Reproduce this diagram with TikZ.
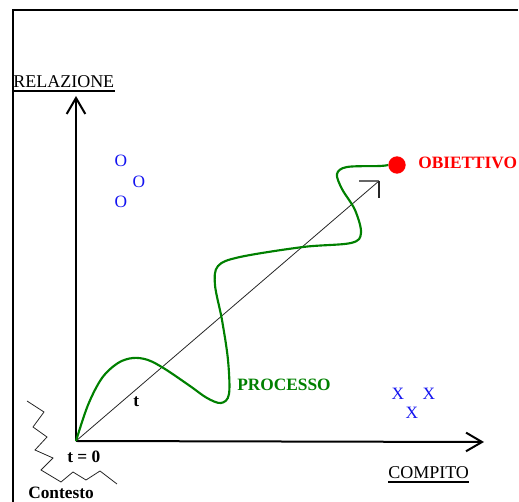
\documentclass[tikz,border=0pt]{standalone}
\usepackage{fontspec}
\setmainfont{Liberation Serif}
\usetikzlibrary{arrows.meta}
\definecolor{procgreen}{RGB}{0,128,0}
\definecolor{markblue}{RGB}{20,20,240}
\begin{document}
\begin{tikzpicture}[x=0.75pt,y=-0.75pt,
  lbl/.style={inner sep=0pt,anchor=base west,font=\fontsize{13}{15}\selectfont\bfseries},
  axlbl/.style={inner sep=0pt,anchor=base west,font=\fontsize{13.5}{15}\selectfont},
  mk/.style={inner sep=0pt,text=markblue,font=\fontsize{13}{15}\selectfont},
  frameline/.style={line width=1.6pt,black},
  axisline/.style={line width=1.5pt,black,-{Straight Barb[length=12pt,width=14pt]}},
  diag/.style={line width=0.6pt,black!85},
  proc/.style={line width=1.6pt,procgreen},
  zig/.style={line width=0.6pt,black!85},
  uline/.style={line width=1.2pt,black}
]
\useasboundingbox (0,0) rectangle (519,502);
% frame
\coordinate (fbl) at (13,502);
\coordinate (ftl) at (13,10);
\coordinate (ftr) at (518,10);
\draw[frameline] (fbl) -- (ftl) -- (ftr);
% axes
\coordinate (origin) at (76,441);
\coordinate (ytip) at (76,96);
\coordinate (xtip) at (484,442);
\coordinate (dtip) at (379,181);
\draw[axisline] (origin) -- (ytip);
\draw[axisline] (origin) -- (xtip);
\draw[diag] (origin) -- (dtip);
\draw[diag,black!60,line width=1pt] (dtip) -- ++(-20,0);
\draw[diag,line width=1pt] (dtip) -- ++(0,17);
% axis labels
\node[axlbl] (rel) at (13,88) {RELAZIONE};
\draw[uline] ([yshift=-2.2pt]rel.base west) -- ([yshift=-2.2pt]rel.base east);
\node[axlbl] (comp) at (388,479) {COMPITO};
\draw[uline] ([yshift=-2.2pt]comp.base west) -- ([yshift=-2.2pt]comp.base east);
% goal
\node[circle,fill=red,inner sep=0pt,minimum size=13pt] (goal) at (397,165) {};
\node[lbl,text=red] (obj) at (418,169) {OBIETTIVO};
% process curve
\draw[proc] plot[smooth,tension=0.55] coordinates {(origin) (88,405) (102,378) (118,363) (133,358) (148,360) (165,369) (190,386) (207,398) (221,403) (229,394) (228,360) (222,320) (215,285) (218,266) (240,257) (303,247) (351,243) (361,233) (355,210) (342,189) (337,174) (347,167) (380,166) (goal.west)};
\node[lbl,text=procgreen] (procl) at (237,391) {PROCESSO};
% time labels
\node[lbl] (t) at (133,407) {t};
\node[lbl] (t0) at (67,463) {t = 0};
\node[lbl] (cont) at (28,499) {Contesto};
% context zigzag
\draw[zig] (27,401) -- (44,412) -- (33,427) -- (47,437) -- (35,450) -- (53,458) -- (41,470) -- (61,482) -- (73,472) -- (86,480) -- (100,471) -- (117,484);
% marks
\node[mk] (o1) at (121,161) {O};
\node[mk] (o2) at (139,182) {O};
\node[mk] (o3) at (121,202) {O};
\node[mk] (x1) at (398,394) {X};
\node[mk] (x2) at (429,394) {X};
\node[mk] (x3) at (412,413) {X};
\end{tikzpicture}
\end{document}
